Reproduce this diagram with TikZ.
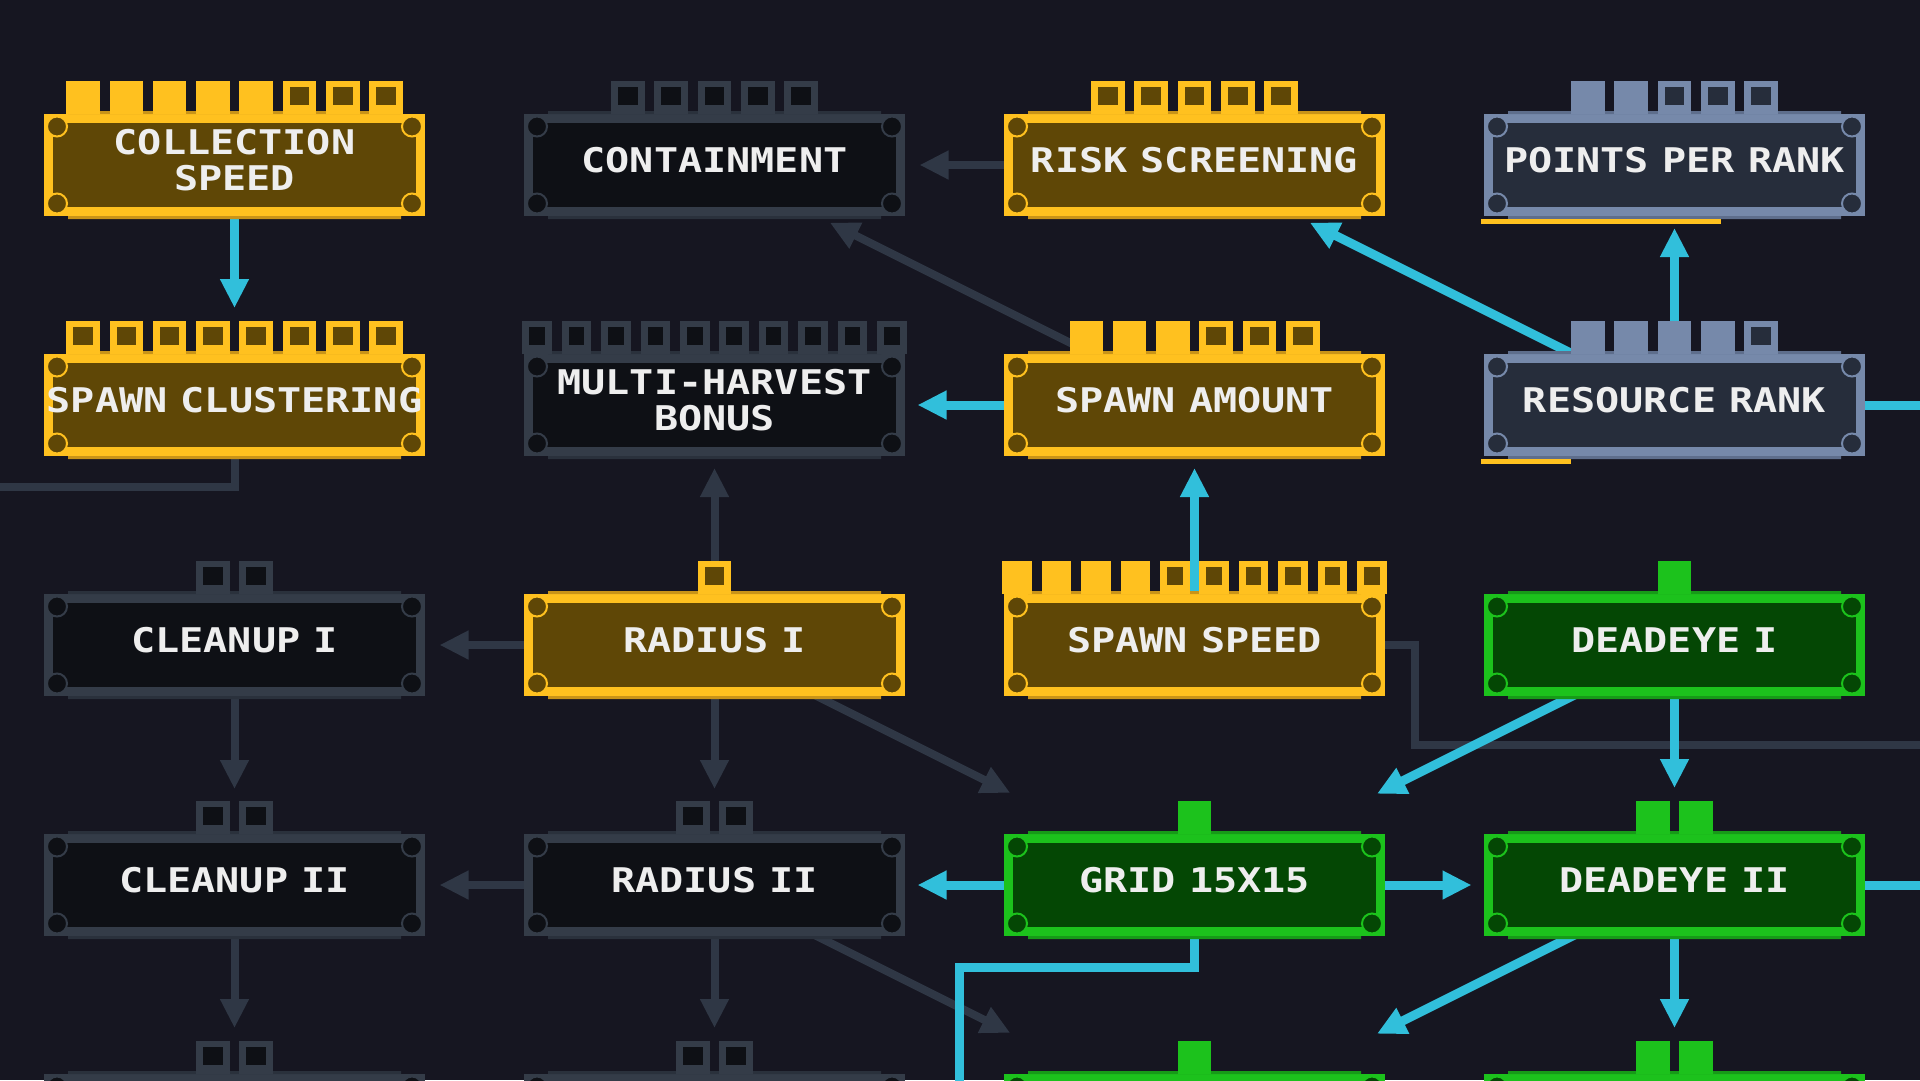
\documentclass[tikz,border=0pt]{standalone}
\usepackage{fontspec}
\usepackage{xcolor}
\usetikzlibrary{positioning}
\usetikzlibrary{arrows.meta}
\newfontfamily\pixfont{DejaVu Sans Mono}[FakeStretch=1.18, WordSpace=0.55]
\definecolor{bgcol}{HTML}{161621}
\definecolor{edgegold}{HTML}{FFC11F}
\definecolor{fillgold}{HTML}{5F4706}
\definecolor{stripgold}{HTML}{C99418}
\definecolor{edgedark}{HTML}{343C48}
\definecolor{filldark}{HTML}{0E1015}
\definecolor{stripdark}{HTML}{2A313C}
\definecolor{edgeslate}{HTML}{7689AA}
\definecolor{fillslate}{HTML}{262D3B}
\definecolor{stripslate}{HTML}{5E6E8C}
\definecolor{edgegreen}{HTML}{1CC21C}
\definecolor{fillgreen}{HTML}{044704}
\definecolor{stripgreen}{HTML}{179A18}
\definecolor{linkdim}{HTML}{2F3745}
\definecolor{linkhot}{HTML}{31BFDB}
\definecolor{txtcol}{HTML}{EEEEEE}
\pgfdeclarelayer{bg}
\pgfsetlayers{bg,main}

\begin{document}
\begin{tikzpicture}[x=1pt, y=-1pt, on grid, node distance=240pt and 480pt,
  box/.style = {minimum width=372pt, minimum height=93pt, inner sep=0pt, line width=9pt},
  gold box/.style = {box, draw=edgegold, fill=fillgold},
  dark box/.style = {box, draw=edgedark, fill=filldark},
  slate box/.style = {box, draw=edgeslate, fill=fillslate},
  green box/.style = {box, draw=edgegreen, fill=fillgreen},
  skilltext/.style = {text=txtcol, font=\pixfont\bfseries\fontsize{34}{36}\selectfont, align=center, inner sep=0pt},
  dimlink/.style = {draw=linkdim, line width=8pt, -{Triangle[width=27pt,length=29pt]}},
  hotlink/.style = {draw=linkhot, line width=9pt, -{Triangle[width=27pt,length=29pt]}},
  dimline/.style = {draw=linkdim, line width=8pt},
  hotline/.style = {draw=linkhot, line width=9pt}]
\useasboundingbox (0,0) rectangle (1920,1080);

\node[gold box] (cs) at (234.5,165) {};
\node[dark box] (ct) [right=of cs] {};
\node[gold box] (rs) [right=of ct] {};
\node[slate box] (pr) [right=of rs] {};
\node[gold box] (sc) [below=of cs] {};
\node[dark box] (mh) [right=of sc] {};
\node[gold box] (sa) [right=of mh] {};
\node[slate box] (rr) [right=of sa] {};
\node[dark box] (cl1) [below=of sc] {};
\node[gold box] (ra1) [right=of cl1] {};
\node[gold box] (ss) [right=of ra1] {};
\node[green box] (de1) [right=of ss] {};
\node[dark box] (cl2) [below=of cl1] {};
\node[dark box] (ra2) [right=of cl2] {};
\node[green box] (gr) [right=of ra2] {};
\node[green box] (de2) [right=of gr] {};
\node[dark box] (cl3) [below=of cl2] {};
\node[dark box] (ra3) [right=of cl3] {};
\node[green box] (gr2) [right=of ra3] {};
\node[green box] (de3) [right=of gr2] {};

\foreach \nm/\st/\nf/\tn/\lb in {cs/gold/5/8/{COLLECTION\\SPEED}, ct/dark/0/5/{CONTAINMENT},
    rs/gold/0/5/{RISK SCREENING}, pr/slate/2/5/{POINTS PER RANK},
    sc/gold/0/8/{SPAWN CLUSTERING}, mh/dark/0/10/{MULTI-HARVEST\\BONUS},
    sa/gold/3/6/{SPAWN AMOUNT}, rr/slate/4/5/{RESOURCE RANK},
    cl1/dark/0/2/{CLEANUP I}, ra1/gold/0/1/{RADIUS I}, ss/gold/4/10/{SPAWN SPEED}, de1/green/1/1/{DEADEYE I},
    cl2/dark/0/2/{CLEANUP II}, ra2/dark/0/2/{RADIUS II}, gr/green/1/1/{GRID 15X15}, de2/green/2/2/{DEADEYE II},
    cl3/dark/0/2/{}, ra3/dark/0/2/{}, gr2/green/1/1/{}, de3/green/2/2/{}}{
  \pgfmathsetmacro\pp{\tn>9 ? 39.4 : 43.3}
  \pgfmathsetmacro\ww{\pp-9.8}
  \pgfmathsetmacro\xs{-((\tn-1)*\pp+\ww)/2}
  \begin{scope}[shift={(\nm.center)}]
    \fill[strip\st] (-166.5,-54) rectangle (166.5,-51) (-166.5,51) rectangle (166.5,54);
    \foreach \k in {1,...,\tn}{
      \pgfmathsetmacro\ax{\xs+(\k-1)*\pp}
      \fill[edge\st] (\ax,-84) rectangle ++(\ww,33);
      \ifnum\k>\nf \fill[fill\st] (\ax+7,-78) rectangle ++(\ww-14,18); \fi
    }
    \foreach \cx/\cy in {-177.5/-38.5, 177.5/-38.5, -177.5/38.5, 177.5/38.5}
      \filldraw[fill=fill\st, draw=edge\st, line width=2pt] (\cx,\cy) circle[radius=10];
  \end{scope}
  \node[skilltext] (\nm-t) at ([yshift=5pt]\nm.center) {\lb};
}

\fill[edgegold] (1481,219) rectangle (1721,224);
\fill[edgegold] (1481,459) rectangle (1571,464);

\coordinate (offl) at (-20,487);
\coordinate (ssbend) at (1415,745);
\coordinate (offr) at (1930,745);
\coordinate (rrout) at (1930,405);
\coordinate (deout) at (1930,885);
\coordinate (grbend) at (959,967);
\coordinate (grout) at (959,1090);

\begin{pgfonlayer}{bg}
\fill[bgcol] (0,0) rectangle (1920,1080);
\draw[dimline] (sc.center) |- (offl);
\draw[dimline] (ss.center) -| (ssbend) -- (offr);
\draw[dimlink, shorten >=205pt] (rs.center) -- (ct.center);
\draw[dimlink, shorten >=129pt] (sa.center) -- (ct.center);
\draw[dimlink, shorten >=63pt] (ra1.center) -- (mh.center);
\draw[dimlink, shorten >=205pt] (ra1.center) -- (cl1.center);
\draw[dimlink, shorten >=96pt] (cl1.center) -- (cl2.center);
\draw[dimlink, shorten >=96pt] (ra1.center) -- (ra2.center);
\draw[dimlink, shorten >=206pt] (ra1.center) -- (gr.center);
\draw[dimlink, shorten >=205pt] (ra2.center) -- (cl2.center);
\draw[dimlink, shorten >=97pt] (cl2.center) -- (cl3.center);
\draw[dimlink, shorten >=97pt] (ra2.center) -- (ra3.center);
\draw[dimlink, shorten >=206pt] (ra2.center) -- (gr2.center);
\draw[hotlink, shorten >=97pt] (cs.center) -- (sc.center);
\draw[hotlink, shorten >=129pt] (rr.center) -- (rs.center);
\draw[hotlink, shorten >=63pt] (rr.center) -- (pr.center);
\draw[hotline] (rr.center) -- (rrout);
\draw[hotlink, shorten >=203pt] (sa.center) -- (mh.center);
\draw[hotlink, shorten >=63pt] (ss.center) -- (sa.center);
\draw[hotlink, shorten >=204pt] (de1.center) -- (gr.center);
\draw[hotlink, shorten >=97pt] (de1.center) -- (de2.center);
\draw[hotlink, shorten >=203pt] (gr.center) -- (ra2.center);
\draw[hotlink, shorten >=203pt] (gr.center) -- (de2.center);
\draw[hotline] (de2.center) -- (deout);
\draw[hotline] (gr.center) |- (grbend) -- (grout);
\draw[hotlink, shorten >=204pt] (de2.center) -- (gr2.center);
\draw[hotlink, shorten >=97pt] (de2.center) -- (de3.center);
\end{pgfonlayer}
\end{tikzpicture}
\end{document}
